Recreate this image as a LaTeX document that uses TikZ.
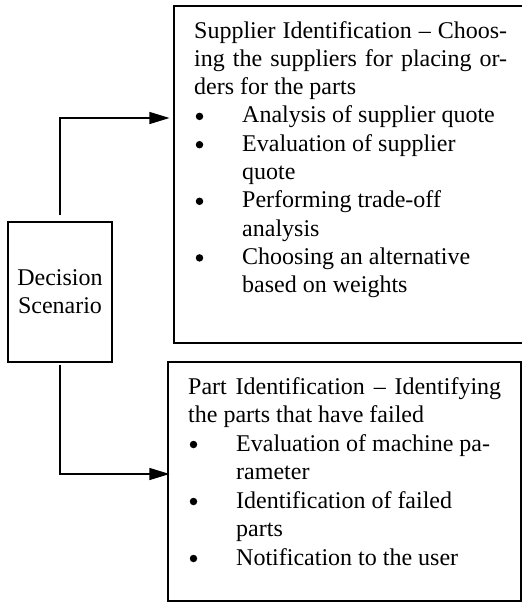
\documentclass[tikz,border=0pt]{standalone}
\usepackage{fontspec}
\setmainfont{Liberation Serif}
\usetikzlibrary{arrows.meta}
\begin{document}
\begin{tikzpicture}[x=1pt,y=-1pt,
  box/.style={draw, line width=1.1pt, inner sep=0pt},
  txt/.style={anchor=base west, inner sep=0pt, font=\fontsize{24}{28}\selectfont},
  ctxt/.style={anchor=base, inner sep=0pt, font=\fontsize{24}{28}\selectfont},
  bul/.style={circle, fill, inner sep=0pt, minimum size=7.5pt},
  conn/.style={line width=1.1pt, -{Triangle[length=20pt,width=12pt]}}]
\useasboundingbox (0,0) rectangle (522,603);
% boxes
\node[box, minimum width=350pt, minimum height=337pt] (sup) at (349,174.5) {};
\node[box, minimum width=353pt, minimum height=239pt] (part) at (344.5,481.5) {};
\node[box, minimum width=104pt, minimum height=140pt] (dec) at (60,292) {};
% decision text
\node[ctxt] (d1) at (60,285) {Decision};
\node[ctxt] (d2) at (60,313) {Scenario};
% supplier text
\node[txt] (s1) at (194,38) {\makebox[313pt][s]{Supplier Identification – Choos-}};
\node[txt] (s2) at (194,66.3) {\makebox[313pt][s]{ing the suppliers for placing or-}};
\node[txt] (s3) at (194,94.6) {ders for the parts};
\node[bul] (sb1) at (199.5,116.4) {};
\node[txt] (s4) at (242,122.9) {Analysis of supplier quote};
\node[bul] (sb2) at (199.5,144.7) {};
\node[txt] (s5) at (242,151.2) {Evaluation of supplier};
\node[txt] (s6) at (242,179.5) {quote};
\node[bul] (sb3) at (199.5,201.3) {};
\node[txt] (s7) at (242,207.8) {Performing trade-off};
\node[txt] (s8) at (242,236.1) {analysis};
\node[bul] (sb4) at (199.5,257.9) {};
\node[txt] (s9) at (242,264.4) {Choosing an alternative};
\node[txt] (s10) at (242,292.7) {based on weights};
% part text
\node[txt] (p1) at (188,394) {\makebox[313pt][s]{Part Identification – Identifying}};
\node[txt] (p2) at (188,422.5) {the parts that have failed};
\node[bul] (pb1) at (193.5,444.5) {};
\node[txt] (p3) at (236,451) {Evaluation of machine pa-};
\node[txt] (p4) at (236,479.5) {rameter};
\node[bul] (pb2) at (193.5,501.5) {};
\node[txt] (p5) at (236,508) {Identification of failed};
\node[txt] (p6) at (236,536.5) {parts};
\node[bul] (pb3) at (193.5,558.5) {};
\node[txt] (p7) at (236,565) {Notification to the user};
% connectors
\draw[conn] ([yshift=6pt]dec.north) |- ([xshift=-4pt,yshift=56.5pt]sup.west);
\draw[conn] ([yshift=-2pt]dec.south) |- ([xshift=2pt,yshift=7.5pt]part.west);
\end{tikzpicture}
\end{document}
